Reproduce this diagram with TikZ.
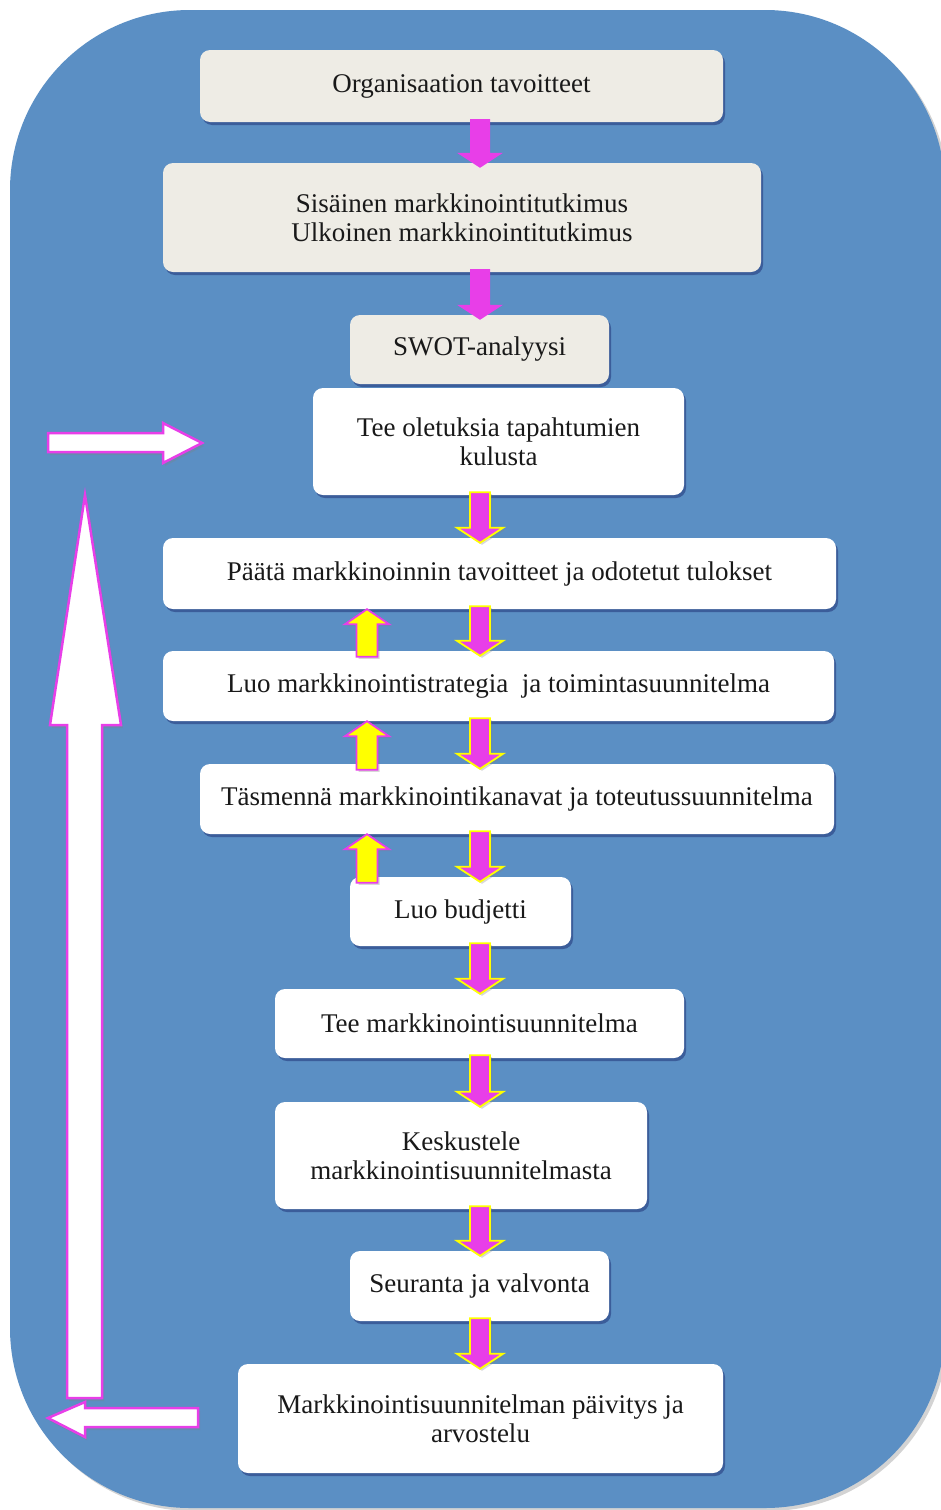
\documentclass[tikz,border=0pt]{standalone}
\usepackage{fontspec}
\setmainfont{Liberation Serif}
\usetikzlibrary{calc,shadows}

\definecolor{bgblue}{RGB}{91,143,196}
\definecolor{boxgray}{RGB}{238,236,229}
\definecolor{arrmag}{RGB}{232,62,232}
\definecolor{arryel}{RGB}{255,255,0}

\tikzset{
  stepbox/.style={rounded corners=10pt, inner sep=2pt, align=center,
    font=\fontsize{27}{29}\selectfont, text=black!90,
    drop shadow={shadow xshift=2pt, shadow yshift=-3pt, fill=black!70!blue, opacity=.35}},
  graybox/.style={stepbox, fill=boxgray},
  whitebox/.style={stepbox, fill=white},
  plainarr/.style={fill=arrmag},
  downarr/.style={fill=arrmag, draw=arryel, line width=1.8pt,
    drop shadow={shadow xshift=2pt, shadow yshift=-2pt, opacity=.3}},
  uparr/.style={fill=arryel, draw=arrmag, line width=1.8pt,
    drop shadow={shadow xshift=2pt, shadow yshift=-2pt, opacity=.3}},
  bigarr/.style={fill=white, draw=arrmag, line width=2.5pt, line join=miter,
    drop shadow={shadow xshift=2pt, shadow yshift=-3pt, opacity=.3}}
}

% down arrow: #1 style, #2 top point, #3 tip point
\newcommand\flowdn[3]{%
  \path[#1] let \p1=(#2), \p2=(#3) in
    (\x1-10pt,\y1+3pt) -- (\x1+10pt,\y1+3pt) -- (\x1+10pt,\y2+10pt) -- (\x1+23pt,\y2+10pt)
    -- (\x1,\y2-5pt) -- (\x1-23pt,\y2+10pt) -- (\x1-10pt,\y2+10pt) -- cycle;}

% up arrow: #1 style, #2 bottom point, #3 tip point
\newcommand\flowup[3]{%
  \path[#1] let \p1=(#2), \p2=(#3) in
    (\x1-10.5pt,\y1-6pt) -- (\x1+10.5pt,\y1-6pt) -- (\x1+10.5pt,\y2-15pt) -- (\x1+22pt,\y2-15pt)
    -- (\x1,\y2) -- (\x1-22pt,\y2-15pt) -- (\x1-10.5pt,\y2-15pt) -- cycle;}

\begin{document}
\begin{tikzpicture}[x=1pt, y=-1pt]
\useasboundingbox (0,0) rectangle (941,1510);

% background panel
\path[fill=bgblue, rounded corners=180pt,
  drop shadow={shadow xshift=3pt, shadow yshift=-3pt, opacity=.35}] (10,10) rectangle (945,1508);

% arrow columns
\coordinate (ax) at (480,0);
\coordinate (ux) at (367,0);

% research boxes
\node[graybox, minimum width=523pt, minimum height=72pt] (org) at (461.5,86) {Organisaation tavoitteet};
\node[graybox, minimum width=598pt, minimum height=109pt] (research) at (462,217.5)
  {Sisäinen markkinointitutkimus\\Ulkoinen markkinointitutkimus};
\node[graybox, minimum width=259pt, minimum height=69pt] (swot) at (479.5,349.5) {SWOT-analyysi};

% planning boxes
\node[whitebox, minimum width=371pt, minimum height=107pt] (assume) at (498.5,441.5)
  {Tee oletuksia tapahtumien\\kulusta};
\node[whitebox, minimum width=673pt, minimum height=71pt] (goals) at (499.5,573.5)
  {Päätä markkinoinnin tavoitteet ja odotetut tulokset};
\node[whitebox, minimum width=671pt, minimum height=70pt] (strategy) at (498.5,686)
  {Luo markkinointistrategia\ \ ja toimintasuunnitelma};
\node[whitebox, minimum width=634pt, minimum height=70pt] (channels) at (517,799)
  {Täsmennä markkinointikanavat ja toteutussuunnitelma};
\node[whitebox, minimum width=221pt, minimum height=69pt] (budget) at (460.5,911.5) {Luo budjetti};
\node[whitebox, minimum width=409pt, minimum height=69pt] (plan) at (479.5,1023.5)
  {Tee markkinointisuunnitelma};
\node[whitebox, minimum width=372pt, minimum height=107pt] (discuss) at (461,1155.5)
  {Keskustele\\markkinointisuunnitelmasta};
\node[whitebox, minimum width=259pt, minimum height=70pt] (monitor) at (479.5,1286)
  {Seuranta ja valvonta};
\node[whitebox, minimum width=485pt, minimum height=109pt] (update) at (480.5,1418.5)
  {Markkinointisuunnitelman päivitys ja\\arvostelu};

% plain arrows
\flowdn{plainarr}{org.south -| ax}{research.north -| ax}
\flowdn{plainarr}{research.south -| ax}{swot.north -| ax}

% down arrows
\foreach \a/\b in {assume/goals, goals/strategy, strategy/channels, channels/budget,
    budget/plan, plan/discuss, discuss/monitor, monitor/update}
  \flowdn{downarr}{\a.south -| ax}{\b.north -| ax};

% up arrows
\foreach \a/\b in {strategy/goals, channels/strategy, budget/channels}
  \flowup{uparr}{\a.north -| ux}{\b.south -| ux};

% feedback loop
\path[bigarr] (48,433) -- (163,433) -- (163,423) -- (202,443) -- (163,463) -- (163,452) -- (48,452) -- cycle;
\path[bigarr] (67,1398) -- (67,725) -- (50,725) -- (85,495) -- (121,725) -- (102,725) -- (102,1398) -- cycle;
\path[bigarr] (198,1408) -- (85,1408) -- (85,1402) -- (48,1418) -- (85,1437) -- (85,1427) -- (198,1427) -- cycle;

\end{tikzpicture}
\end{document}
